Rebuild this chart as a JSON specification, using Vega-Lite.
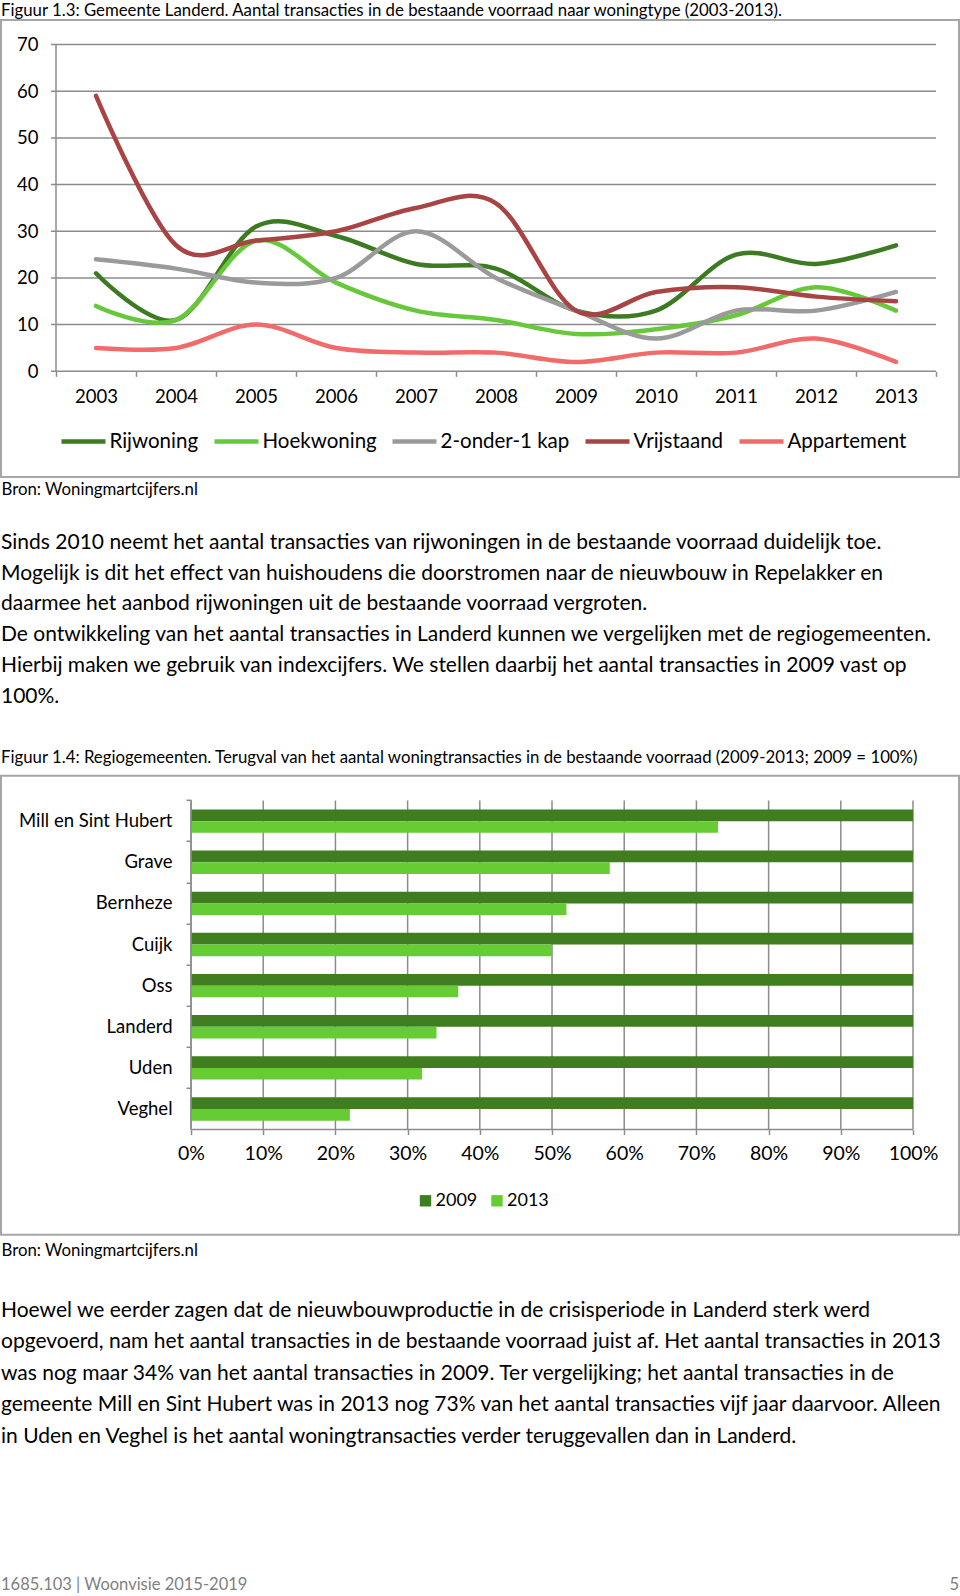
{
  "$schema": "https://vega.github.io/schema/vega-lite/v6.json",
  "padding": {"top": 2, "left": 0, "right": 0, "bottom": 0},
  "bounds": "flush",
  "spacing": 298.8,
  "resolve": {"scale": {"color": "independent"}, "legend": {"color": "independent"}},
  "config": {
    "font": "Lato",
    "view": {"stroke": "#a6a6a6", "strokeWidth": 2},
    "axis": {"labelFont": "Lato", "labelColor": "#000000", "titleFont": "Lato", "titleColor": "#000000", "titleFontWeight": "normal"},
    "legend": {"labelFont": "Lato", "labelColor": "#000000"},
    "title": {"font": "Lato", "fontWeight": "normal", "color": "#000000", "anchor": "start", "subtitleFont": "Lato", "subtitleColor": "#000000"}
  },
  "datasets": {
    "lijnen": [
      {"type": "Rijwoning", "jaar": 2003, "aantal": 21},
      {"type": "Rijwoning", "jaar": 2004, "aantal": 11},
      {"type": "Rijwoning", "jaar": 2005, "aantal": 31},
      {"type": "Rijwoning", "jaar": 2006, "aantal": 29},
      {"type": "Rijwoning", "jaar": 2007, "aantal": 23},
      {"type": "Rijwoning", "jaar": 2008, "aantal": 22},
      {"type": "Rijwoning", "jaar": 2009, "aantal": 13},
      {"type": "Rijwoning", "jaar": 2010, "aantal": 13},
      {"type": "Rijwoning", "jaar": 2011, "aantal": 25},
      {"type": "Rijwoning", "jaar": 2012, "aantal": 23},
      {"type": "Rijwoning", "jaar": 2013, "aantal": 27},
      {"type": "Hoekwoning", "jaar": 2003, "aantal": 14},
      {"type": "Hoekwoning", "jaar": 2004, "aantal": 11},
      {"type": "Hoekwoning", "jaar": 2005, "aantal": 28},
      {"type": "Hoekwoning", "jaar": 2006, "aantal": 19},
      {"type": "Hoekwoning", "jaar": 2007, "aantal": 13},
      {"type": "Hoekwoning", "jaar": 2008, "aantal": 11},
      {"type": "Hoekwoning", "jaar": 2009, "aantal": 8},
      {"type": "Hoekwoning", "jaar": 2010, "aantal": 9},
      {"type": "Hoekwoning", "jaar": 2011, "aantal": 12},
      {"type": "Hoekwoning", "jaar": 2012, "aantal": 18},
      {"type": "Hoekwoning", "jaar": 2013, "aantal": 13},
      {"type": "2-onder-1 kap", "jaar": 2003, "aantal": 24},
      {"type": "2-onder-1 kap", "jaar": 2004, "aantal": 22},
      {"type": "2-onder-1 kap", "jaar": 2005, "aantal": 19},
      {"type": "2-onder-1 kap", "jaar": 2006, "aantal": 20},
      {"type": "2-onder-1 kap", "jaar": 2007, "aantal": 30},
      {"type": "2-onder-1 kap", "jaar": 2008, "aantal": 20},
      {"type": "2-onder-1 kap", "jaar": 2009, "aantal": 13},
      {"type": "2-onder-1 kap", "jaar": 2010, "aantal": 7},
      {"type": "2-onder-1 kap", "jaar": 2011, "aantal": 13},
      {"type": "2-onder-1 kap", "jaar": 2012, "aantal": 13},
      {"type": "2-onder-1 kap", "jaar": 2013, "aantal": 17},
      {"type": "Vrijstaand", "jaar": 2003, "aantal": 59},
      {"type": "Vrijstaand", "jaar": 2004, "aantal": 27},
      {"type": "Vrijstaand", "jaar": 2005, "aantal": 28},
      {"type": "Vrijstaand", "jaar": 2006, "aantal": 30},
      {"type": "Vrijstaand", "jaar": 2007, "aantal": 35},
      {"type": "Vrijstaand", "jaar": 2008, "aantal": 36},
      {"type": "Vrijstaand", "jaar": 2009, "aantal": 13},
      {"type": "Vrijstaand", "jaar": 2010, "aantal": 17},
      {"type": "Vrijstaand", "jaar": 2011, "aantal": 18},
      {"type": "Vrijstaand", "jaar": 2012, "aantal": 16},
      {"type": "Vrijstaand", "jaar": 2013, "aantal": 15},
      {"type": "Appartement", "jaar": 2003, "aantal": 5},
      {"type": "Appartement", "jaar": 2004, "aantal": 5},
      {"type": "Appartement", "jaar": 2005, "aantal": 10},
      {"type": "Appartement", "jaar": 2006, "aantal": 5},
      {"type": "Appartement", "jaar": 2007, "aantal": 4},
      {"type": "Appartement", "jaar": 2008, "aantal": 4},
      {"type": "Appartement", "jaar": 2009, "aantal": 2},
      {"type": "Appartement", "jaar": 2010, "aantal": 4},
      {"type": "Appartement", "jaar": 2011, "aantal": 4},
      {"type": "Appartement", "jaar": 2012, "aantal": 7},
      {"type": "Appartement", "jaar": 2013, "aantal": 2}
    ],
    "raster": [
      {"waarde": 0}, {"waarde": 10}, {"waarde": 20}, {"waarde": 30},
      {"waarde": 40}, {"waarde": 50}, {"waarde": 60}, {"waarde": 70}
    ],
    "raster2": [
      {"pct": 0}, {"pct": 10}, {"pct": 20}, {"pct": 30}, {"pct": 40}, {"pct": 50},
      {"pct": 60}, {"pct": 70}, {"pct": 80}, {"pct": 90}, {"pct": 100}
    ],
    "staven": [
      {"gemeente": "Mill en Sint Hubert", "jaar": "2009", "pct": 100},
      {"gemeente": "Mill en Sint Hubert", "jaar": "2013", "pct": 73},
      {"gemeente": "Grave", "jaar": "2009", "pct": 100},
      {"gemeente": "Grave", "jaar": "2013", "pct": 58},
      {"gemeente": "Bernheze", "jaar": "2009", "pct": 100},
      {"gemeente": "Bernheze", "jaar": "2013", "pct": 52},
      {"gemeente": "Cuijk", "jaar": "2009", "pct": 100},
      {"gemeente": "Cuijk", "jaar": "2013", "pct": 50},
      {"gemeente": "Oss", "jaar": "2009", "pct": 100},
      {"gemeente": "Oss", "jaar": "2013", "pct": 37},
      {"gemeente": "Landerd", "jaar": "2009", "pct": 100},
      {"gemeente": "Landerd", "jaar": "2013", "pct": 34},
      {"gemeente": "Uden", "jaar": "2009", "pct": 100},
      {"gemeente": "Uden", "jaar": "2013", "pct": 32},
      {"gemeente": "Veghel", "jaar": "2009", "pct": 100},
      {"gemeente": "Veghel", "jaar": "2013", "pct": 22}
    ],
    "voet": [
      {"voettekst": "1685.103 | Woonvisie 2015-2019", "pagina": "5"}
    ]
  },
  "vconcat": [
    {
      "width": 958,
      "height": 457,
      "title": {
        "text": "Figuur 1.3: Gemeente Landerd. Aantal transacties in de bestaande voorraad naar woningtype (2003-2013).",
        "fontSize": 16.8,
        "offset": 0
      },
      "layer": [
        {
          "data": {"name": "raster"},
          "mark": {"type": "rule", "color": "#8c8c8c", "strokeWidth": 1.5},
          "encoding": {
            "y": {"field": "waarde", "type": "quantitative"},
            "x": {"datum": 2002.4375, "type": "quantitative"},
            "x2": {"datum": 2013.5}
          }
        },
        {
          "data": {"values": [{}]},
          "mark": {"type": "rule", "color": "#8c8c8c", "strokeWidth": 1.5},
          "encoding": {
            "x": {"datum": 2002.5, "type": "quantitative"},
            "y": {"datum": 0, "type": "quantitative"},
            "y2": {"datum": 70}
          }
        },
        {
          "data": {"name": "lijnen"},
          "mark": {"type": "line", "interpolate": "cardinal", "tension": 0, "strokeWidth": 4.5, "strokeCap": "round", "strokeJoin": "round"},
          "encoding": {
            "x": {
              "field": "jaar", "type": "quantitative",
              "scale": {"domain": [2001.8125, 2013.7875], "nice": false, "zero": false},
              "axis": {
                "orient": "bottom", "offset": -105.7,
                "values": [2002.5, 2003, 2003.5, 2004, 2004.5, 2005, 2005.5, 2006, 2006.5, 2007, 2007.5, 2008, 2008.5, 2009, 2009.5, 2010, 2010.5, 2011, 2011.5, 2012, 2012.5, 2013, 2013.5],
                "labelExpr": "datum.value % 1 == 0 ? '' + datum.value : ''",
                "labelOverlap": false, "labelFlush": false, "labelBound": false,
                "domain": false, "grid": false,
                "tickSize": 5, "tickWidth": 1.5, "tickColor": "#8c8c8c",
                "tickOpacity": {"condition": {"test": "datum.value % 1 == 0", "value": 0}, "value": 1},
                "labelFontSize": 18.5, "labelPadding": 11,
                "title": "Bron: Woningmartcijfers.nl",
                "titleAnchor": "start", "titleFontSize": 16.8, "titlePadding": 75.5
              }
            },
            "y": {
              "field": "aantal", "type": "quantitative",
              "scale": {"domain": [-22.65, 75.27], "nice": false, "zero": false},
              "axis": {
                "orient": "left", "offset": -55,
                "values": [0, 10, 20, 30, 40, 50, 60, 70],
                "domain": false, "ticks": false, "tickSize": 0, "grid": false,
                "labelPadding": 18, "labelFontSize": 18.5, "title": null
              }
            },
            "color": {
              "field": "type", "type": "nominal",
              "scale": {
                "domain": ["Rijwoning", "Hoekwoning", "2-onder-1 kap", "Vrijstaand", "Appartement"],
                "range": ["#3d7b22", "#66c83a", "#9a9a9a", "#a94444", "#f26b6b"]
              },
              "legend": {
                "orient": "none", "legendX": 58, "legendY": 397,
                "direction": "horizontal", "title": null,
                "symbolType": "stroke", "symbolStrokeWidth": 4.5, "symbolSize": 1936,
                "labelFontSize": 20.5, "labelOffset": 1.5, "columnPadding": 6
              }
            }
          }
        }
      ]
    },
    {
      "width": 958,
      "height": 459,
      "title": {
        "text": [
          "Sinds 2010 neemt het aantal transacties van rijwoningen in de bestaande voorraad duidelijk toe.",
          "Mogelijk is dit het effect van huishoudens die doorstromen naar de nieuwbouw in Repelakker en",
          "daarmee het aanbod rijwoningen uit de bestaande voorraad vergroten.",
          "De ontwikkeling van het aantal transacties in Landerd kunnen we vergelijken met de regiogemeenten.",
          "Hierbij maken we gebruik van indexcijfers. We stellen daarbij het aantal transacties in 2009 vast op",
          "100%."
        ],
        "fontSize": 21,
        "lineHeight": 30.7,
        "subtitle": "Figuur 1.4: Regiogemeenten. Terugval van het aantal woningtransacties in de bestaande voorraad (2009-2013; 2009 = 100%)",
        "subtitleFontSize": 16.8,
        "subtitlePadding": 43.5,
        "offset": 9
      },
      "layer": [
        {
          "data": {"name": "raster2"},
          "mark": {"type": "rule", "color": "#8c8c8c", "strokeWidth": 1.5},
          "encoding": {
            "x": {"field": "pct", "type": "quantitative"},
            "y": {"datum": "Mill en Sint Hubert", "type": "nominal", "bandPosition": 0},
            "y2": {"datum": "Veghel", "bandPosition": 1}
          }
        },
        {
          "data": {"name": "staven"},
          "mark": {"type": "bar"},
          "encoding": {
            "y": {
              "field": "gemeente", "type": "nominal",
              "scale": {
                "domain": ["Mill en Sint Hubert", "Grave", "Bernheze", "Cuijk", "Oss", "Landerd", "Uden", "Veghel"],
                "range": [24.8, 353.8],
                "paddingInner": 0, "paddingOuter": 0
              },
              "axis": {
                "orient": "left", "offset": -190,
                "domain": false, "grid": false,
                "tickSize": 5, "tickColor": "#8c8c8c", "tickWidth": 1.5, "bandPosition": 0,
                "labelPadding": 14, "labelFontSize": 18.5, "labelLimit": 0, "title": null
              }
            },
            "yOffset": {
              "field": "jaar", "type": "nominal",
              "scale": {"domain": ["2009", "2013"], "paddingInner": 0, "paddingOuter": 0.757}
            },
            "x": {
              "field": "pct", "type": "quantitative",
              "scale": {"domain": [-26.32, 106.37], "nice": false, "zero": false},
              "axis": {
                "orient": "bottom", "offset": -105.2,
                "values": [0, 10, 20, 30, 40, 50, 60, 70, 80, 90, 100],
                "labelExpr": "datum.value + '%'",
                "domain": false, "grid": false,
                "tickSize": 5, "tickColor": "#8c8c8c", "tickWidth": 1.5,
                "labelFontSize": 19.5, "labelPadding": 10, "labelFlush": false, "labelOverlap": false,
                "title": "Bron: Woningmartcijfers.nl",
                "titleAnchor": "start", "titleFontSize": 16.8, "titlePadding": 79
              }
            },
            "x2": {"datum": 0},
            "color": {
              "field": "jaar", "type": "nominal",
              "scale": {"domain": ["2009", "2013"], "range": ["#3f7d20", "#66cc33"]},
              "legend": {
                "orient": "none", "legendX": 415.5, "legendY": 416,
                "direction": "horizontal", "title": null,
                "symbolType": "square", "symbolSize": 130, "symbolStrokeWidth": 0,
                "labelFontSize": 18, "labelOffset": 1, "columnPadding": 10.5
              }
            }
          }
        },
        {
          "data": {"values": [{}]},
          "mark": {"type": "rule", "color": "#8c8c8c", "strokeWidth": 1.5},
          "encoding": {
            "x": {"datum": 0, "type": "quantitative"},
            "y": {"datum": "Mill en Sint Hubert", "type": "nominal", "bandPosition": 0},
            "y2": {"datum": "Veghel", "bandPosition": 1}
          }
        },
        {
          "data": {"values": [{}]},
          "mark": {"type": "rule", "color": "#8c8c8c", "strokeWidth": 1.5},
          "encoding": {
            "y": {"datum": "Veghel", "type": "nominal", "bandPosition": 1},
            "x": {"datum": 0, "type": "quantitative"},
            "x2": {"datum": 100}
          }
        }
      ]
    },
    {
      "width": 958,
      "height": 60,
      "view": {"stroke": null},
      "data": {"name": "voet"},
      "title": {
        "text": [
          "Hoewel we eerder zagen dat de nieuwbouwproductie in de crisisperiode in Landerd sterk werd",
          "opgevoerd, nam het aantal transacties in de bestaande voorraad juist af. Het aantal transacties in 2013",
          "was nog maar 34% van het aantal transacties in 2009. Ter vergelijking; het aantal transacties in de",
          "gemeente Mill en Sint Hubert was in 2013 nog 73% van het aantal transacties vijf jaar daarvoor. Alleen",
          "in Uden en Veghel is het aantal woningtransacties verder teruggevallen dan in Landerd."
        ],
        "fontSize": 21,
        "lineHeight": 31.4,
        "offset": 87
      },
      "layer": [
        {
          "mark": {"type": "text", "align": "left", "fontSize": 16.5, "color": "#808080", "dy": 21},
          "encoding": {
            "x": {"datum": 0, "type": "quantitative", "scale": {"domain": [0, 1], "nice": false, "zero": false}, "axis": null},
            "text": {"field": "voettekst"}
          }
        },
        {
          "mark": {"type": "text", "align": "right", "fontSize": 16.5, "color": "#808080", "dy": 21},
          "encoding": {
            "x": {"datum": 1, "type": "quantitative"},
            "text": {"field": "pagina"}
          }
        }
      ]
    }
  ]
}
